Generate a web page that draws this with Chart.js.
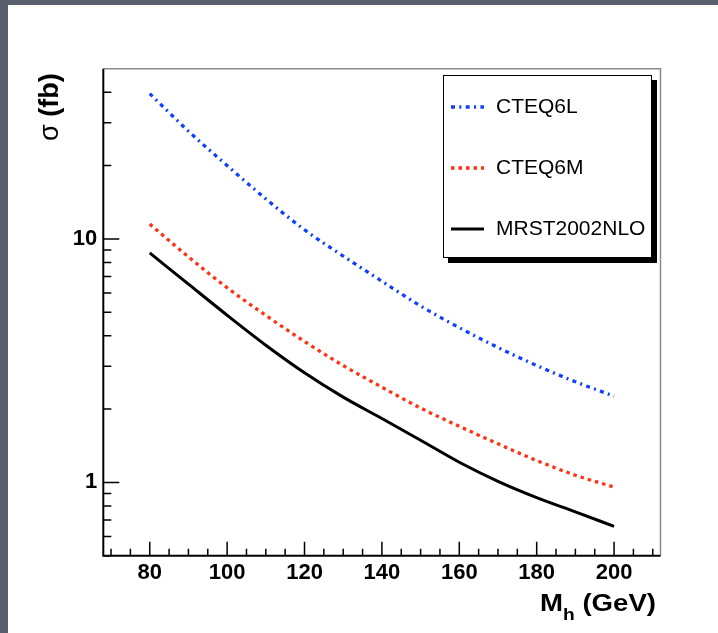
<!DOCTYPE html>
<html>
<head>
<meta charset="utf-8">
<script src="https://cdn.jsdelivr.net/npm/chart.js@4.4.1/dist/chart.umd.min.js"></script>
<style>
  html, body { margin: 0; padding: 0; }
  body { width: 718px; height: 633px; background: #5a5f6d; overflow: hidden; position: relative; }
  #panel { position: absolute; left: 8px; top: 5px; right: 0; bottom: 0; background: #fff; }
  #c { position: absolute; left: 0; top: 0; }
</style>
</head>
<body>
<div id="panel"></div>
<canvas id="c" width="718" height="633"></canvas>
<script>
// Higgs mass points (GeV) and cross sections (fb) for each PDF set
const masses  = [80, 90, 100, 110, 120, 130, 140, 150, 160, 170, 180, 190, 200];
const cteq6l  = [39.5, 27.7, 20.0, 14.6, 10.9, 8.5, 6.7, 5.3, 4.32, 3.58, 3.02, 2.59, 2.26];
const cteq6m  = [11.5, 8.44, 6.30, 4.85, 3.79, 3.02, 2.46, 2.02, 1.70, 1.44, 1.23, 1.07, 0.957];
const mrst    = [8.76, 6.52, 4.86, 3.66, 2.82, 2.24, 1.83, 1.49, 1.21, 1.01, 0.866, 0.757, 0.66];
const seriesNames = ['CTEQ6L', 'CTEQ6M', 'MRST2002NLO'];
const xTicks = [80, 100, 120, 140, 160, 180, 200];
const yTicks = [1, 10];

const FONT = '"Liberation Sans", Arial, Helvetica, sans-serif';

const toPoints = ys => masses.map((m, i) => ({ x: m, y: ys[i] }));

const datasets = [
  { label: seriesNames[0], data: toPoints(cteq6l), borderColor: '#1040ff', borderWidth: 3.3, borderDash: [4, 4.3, 2, 4.4] },
  { label: seriesNames[1], data: toPoints(cteq6m), borderColor: '#ff3311', borderWidth: 3.3, borderDash: [3.5, 4] },
  { label: seriesNames[2], data: toPoints(mrst), borderColor: '#000000', borderWidth: 3, borderDash: [] },
].map(d => Object.assign(d, { parsing: false, pointRadius: 0, fill: false, cubicInterpolationMode: 'monotone', borderCapStyle: 'butt' }));

// ROOT-style frame: ticks inside the box, grey top/right edges, legend with drop shadow
const rootFrame = {
  id: 'root-frame',
  afterDraw(chart) {
    const { ctx, chartArea: a, scales: { x, y } } = chart;
    ctx.save();

    ctx.strokeStyle = '#8a8a8a';
    ctx.lineWidth = 1.5;
    ctx.beginPath();
    ctx.moveTo(a.left, a.top); ctx.lineTo(a.right, a.top); ctx.lineTo(a.right, a.bottom);
    ctx.stroke();

    ctx.strokeStyle = '#000';
    ctx.lineWidth = 2;
    ctx.beginPath();
    ctx.moveTo(a.left, a.top); ctx.lineTo(a.left, a.bottom); ctx.lineTo(a.right, a.bottom);
    ctx.stroke();

    ctx.lineWidth = 1.5;
    ctx.beginPath();
    for (let v = 70; v <= 210; v += 5) {
      const px = x.getPixelForValue(v);
      const len = xTicks.includes(v) ? 14 : 7;
      ctx.moveTo(px, a.bottom); ctx.lineTo(px, a.bottom - len);
    }
    for (const dec of [0.1, 1, 10]) {
      for (let k = 1; k <= 9; k++) {
        const v = k * dec;
        if (v < y.min || v > y.max * 0.99) continue;
        const py = y.getPixelForValue(v);
        const len = k === 1 ? 16 : 8;
        ctx.moveTo(a.left, py); ctx.lineTo(a.left + len, py);
      }
    }
    ctx.stroke();

    // axis titles
    ctx.fillStyle = '#000';
    ctx.textBaseline = 'alphabetic';
    ctx.textAlign = 'left';
    ctx.save();
    ctx.translate(540, 611);
    ctx.scale(1.2, 1);
    ctx.font = `bold 23px ${FONT}`;
    ctx.fillText('M', 0, 0);
    let w = ctx.measureText('M').width;
    ctx.font = `bold 16px ${FONT}`;
    ctx.fillText('h', w, 9);
    w += ctx.measureText('h').width;
    ctx.font = `bold 23px ${FONT}`;
    ctx.fillText(' (GeV)', w, 0);
    ctx.restore();

    ctx.save();
    ctx.translate(58, 141);
    ctx.rotate(-Math.PI / 2);
    ctx.font = `27px ${FONT}`;
    ctx.fillText('σ', 0, 0);
    let sw = ctx.measureText('σ ').width;
    ctx.font = `bold 27px ${FONT}`;
    ctx.fillText('(fb)', sw, 0);
    ctx.restore();

    // legend box
    const box = { l: 443, t: 75, r: 652, b: 258 };
    ctx.fillStyle = '#000';
    ctx.fillRect(box.l + 5, box.t + 5, box.r - box.l, box.b - box.t);
    ctx.fillStyle = '#fff';
    ctx.fillRect(box.l, box.t, box.r - box.l, box.b - box.t);
    ctx.strokeStyle = '#000';
    ctx.lineWidth = 1;
    ctx.strokeRect(box.l + 0.5, box.t + 0.5, box.r - box.l - 1, box.b - box.t - 1);

    const rowH = (box.b - box.t) / chart.data.datasets.length;
    ctx.font = `21px ${FONT}`;
    ctx.textBaseline = 'middle';
    chart.data.datasets.forEach((ds, i) => {
      const cy = box.t + rowH * (i + 0.5) + 1.5;
      ctx.strokeStyle = ds.borderColor;
      ctx.lineWidth = ds.borderWidth;
      ctx.setLineDash(ds.borderDash);
      ctx.beginPath();
      ctx.moveTo(451, cy); ctx.lineTo(484, cy);
      ctx.stroke();
      ctx.setLineDash([]);
      ctx.fillStyle = '#000';
      ctx.fillText(ds.label, 496, cy);
    });

    ctx.restore();
  },
};

const tickFont = { family: FONT, size: 22, weight: 'bold' };

new Chart(document.getElementById('c'), {
  type: 'line',
  data: { datasets },
  options: {
    responsive: false,
    animation: false,
    events: [],
    layout: { padding: { left: 0, top: 68.7, right: 57.5, bottom: 0 } },
    plugins: { legend: { display: false }, tooltip: { enabled: false } },
    scales: {
      x: {
        type: 'linear',
        min: 68,
        max: 212,
        grid: { display: false, drawTicks: false },
        border: { display: false },
        ticks: { color: '#000', font: tickFont, padding: 4, maxRotation: 0, autoSkip: false },
        afterBuildTicks: s => { s.ticks = xTicks.map(v => ({ value: v })); },
        afterFit: s => { s.height = 77.3; },
      },
      y: {
        type: 'logarithmic',
        min: 0.5,
        max: 50,
        grid: { display: false, drawTicks: false },
        border: { display: false },
        ticks: { color: '#000', font: tickFont, padding: 6, callback: v => String(v) },
        afterBuildTicks: s => { s.ticks = yTicks.map(v => ({ value: v })); },
        afterFit: s => { s.width = 103.3; },
      },
    },
  },
  plugins: [rootFrame],
});
</script>
</body>
</html>
